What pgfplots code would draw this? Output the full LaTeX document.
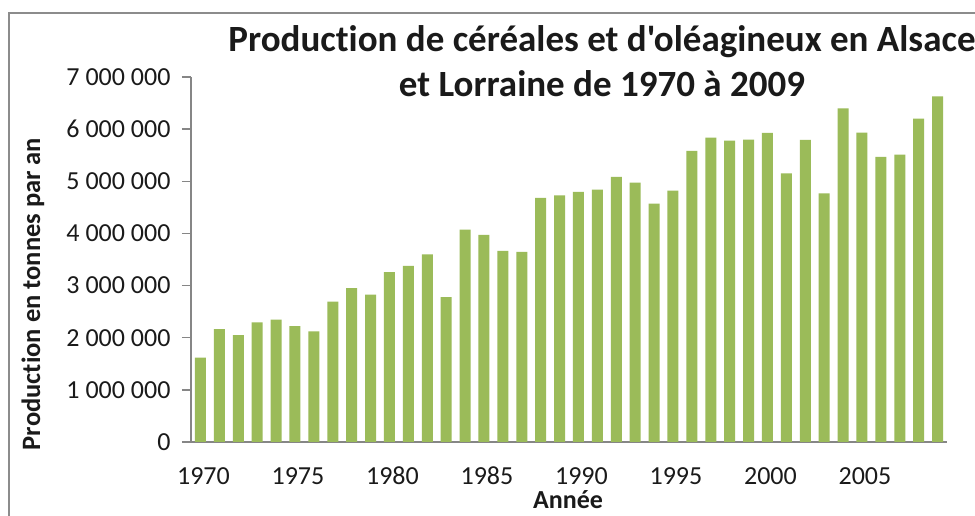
\documentclass[border=0pt]{standalone}
\usepackage{pgfplots}
\pgfplotsset{compat=1.18}
\usepackage{pgfplotstable}
\usepackage{fontspec}
\setmainfont{Carlito}
\newfontfamily\titlefont{Carlito}[Ligatures={NoCommon}]
\definecolor{bargreen}{HTML}{9BBB59}
\definecolor{axisgray}{HTML}{868686}
\definecolor{framegray}{HTML}{8C8C8C}
\definecolor{txt}{HTML}{1A1A1A}
\pgfplotstableread{
year val
1970 1617000
1971 2165000
1972 2050000
1973 2293000
1974 2345000
1975 2222000
1976 2121000
1977 2690000
1978 2950000
1979 2824000
1980 3257000
1981 3379000
1982 3596000
1983 2778000
1984 4075000
1985 3973000
1986 3667000
1987 3647000
1988 4682000
1989 4732000
1990 4797000
1991 4841000
1992 5084000
1993 4975000
1994 4573000
1995 4822000
1996 5582000
1997 5837000
1998 5780000
1999 5799000
2000 5927000
2001 5153000
2002 5793000
2003 4770000
2004 6398000
2005 5933000
2006 5467000
2007 5511000
2008 6201000
2009 6628000
}\datatable
\begin{document}
\begin{tikzpicture}[x=1pt,y=1pt]
\useasboundingbox (0,0) rectangle (975,516);
\clip (0,0) rectangle (975,516);
\fill[white] (0,0) rectangle (975,516);
\draw[framegray, line width=1.3pt] (9,-20) -- (9,503) -- (1000,503);
\begin{axis}[
  at={(191pt,74pt)}, anchor=south west,
  scale only axis, width=756pt, height=365pt,
  xmin=-0.5, xmax=39.5, ymin=0, ymax=7000000,
  axis lines*=left,
  axis line style={axisgray, line width=1.5pt},
  ybar, bar width=11pt,
  xtick={0,5,...,35},
  xticklabels={1970,1975,1980,1985,1990,1995,2000,2005},
  minor xtick={-0.5,0.5,...,39.5},
  xtick style={draw=none},
  minor tick length=9pt,
  major tick length=9pt,
  tick align=outside,
  tick style={axisgray, line width=1.3pt},
  ytick={0,1000000,...,7000000},
  yticklabels={0,{1 000 000},{2 000 000},{3 000 000},{4 000 000},{5 000 000},{6 000 000},{7 000 000}},
  scaled y ticks=false,
  /pgf/number format/assume math mode=true,
  tick label style={font=\fontsize{26}{30}\selectfont, text=txt},
  yticklabel style={xshift=-8pt},
  xticklabel style={text height=17pt, text depth=0pt, yshift=-13pt, xshift=3pt},
  clip=false,
]
\addplot[fill=bargreen, draw=none] table[x expr=\thisrow{year}-1970, y=val] {\datatable};
\end{axis}
\node[rotate=90, font=\titlefont\fontsize{26.5}{30}\selectfont\bfseries, text=txt] at (33,222) {Production en tonnes par an};
\node[font=\titlefont\fontsize{26}{30}\selectfont\bfseries, text=txt] at (568,16) {Année};
\node[font=\titlefont\fontsize{37}{43}\selectfont\bfseries, text=txt] at (602,474) {Production de céréales et d'oléagineux en Alsace};
\node[font=\titlefont\fontsize{37}{43}\selectfont\bfseries, text=txt] at (602,432) {et Lorraine de 1970 à 2009};
\end{tikzpicture}
\end{document}
